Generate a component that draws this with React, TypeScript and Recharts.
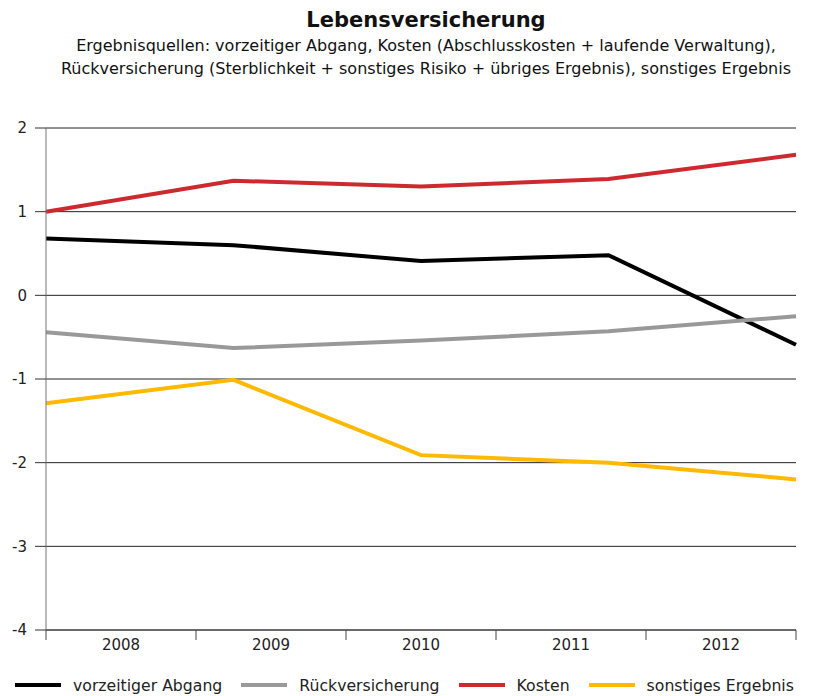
import { LineChart, Line, XAxis, YAxis, CartesianGrid, Legend } from "recharts";

const years = ["2008", "2009", "2010", "2011", "2012"];
const vorzeitigerAbgang = [0.68, 0.6, 0.41, 0.48, -0.59];
const rueckversicherung = [-0.44, -0.63, -0.54, -0.43, -0.25];
const kosten = [1.0, 1.37, 1.3, 1.39, 1.68];
const sonstigesErgebnis = [-1.29, -1.01, -1.91, -2.0, -2.2];
const yTicks = [-4, -3, -2, -1, 0, 1, 2];

const series = [
  { key: "abgang", name: "vorzeitiger Abgang", color: "#000000" },
  { key: "rueck", name: "Rückversicherung", color: "#999999" },
  { key: "kosten", name: "Kosten", color: "#cc2a2e" },
  { key: "sonst", name: "sonstiges Ergebnis", color: "#ffb900" },
];

const data = years.map((y, i) => ({
  x: i,
  year: y,
  abgang: vorzeitigerAbgang[i],
  rueck: rueckversicherung[i],
  kosten: kosten[i],
  sonst: sonstigesErgebnis[i],
}));

const FONT = "Verdana, 'DejaVu Sans', sans-serif";
const BAND_PX = 150;

function YearTick(props: any) {
  const { x, y, index } = props;
  if (index >= years.length) return null;
  return (
    <text x={x + BAND_PX / 2} y={y} dy={10} textAnchor="middle" fontSize={15} fill="#222" fontFamily={FONT}>
      {years[index]}
    </text>
  );
}

function LegendRow() {
  return (
    <div style={{ display: "flex", alignItems: "center", fontFamily: FONT, fontSize: 15.7, color: "#222", whiteSpace: "nowrap", height: 20 }}>
      {series.map((s) => (
        <div key={s.key} style={{ display: "flex", alignItems: "center", marginRight: 19, flexShrink: 0 }}>
          <span style={{ display: "inline-block", width: 46, height: 4, background: s.color, marginRight: 12 }} />
          <span>{s.name}</span>
        </div>
      ))}
    </div>
  );
}

export default function App() {
  return (
    <div style={{ position: "absolute", left: 0, top: 0, width: 816, height: 696, background: "#fff", fontFamily: FONT }}>
      <div style={{ position: "absolute", left: 36, top: 6, width: 780, textAlign: "center", color: "#111" }}>
        <div style={{ fontSize: 21, fontWeight: "bold", lineHeight: "28px" }}>Lebensversicherung</div>
        <div style={{ fontSize: 16, lineHeight: "23px" }}>
          Ergebnisquellen: vorzeitiger Abgang, Kosten (Abschlusskosten + laufende Verwaltung),
        </div>
        <div style={{ fontSize: 16, lineHeight: "23px" }}>
          Rückversicherung (Sterblichkeit + sonstiges Risiko + übriges Ergebnis), sonstiges Ergebnis
        </div>
      </div>
      <LineChart width={816} height={696} data={data} margin={{ top: 128, right: 20, bottom: 16, left: 0 }}>
        <CartesianGrid horizontal vertical={false} stroke="#222" strokeWidth={1} xAxisId="pt" />
        <XAxis xAxisId="pt" dataKey="x" type="number" domain={[0, 4]} hide />
        <XAxis
          xAxisId="cat"
          dataKey="x"
          type="number"
          domain={[0, 5]}
          ticks={[0, 1, 2, 3, 4, 5]}
          allowDataOverflow
          height={30}
          stroke="#444"
          tickSize={10}
          tickMargin={0}
          tick={<YearTick />}
        />
        <YAxis
          type="number"
          domain={[-4, 2]}
          ticks={yTicks}
          width={46}
          tickSize={11}
          tickMargin={8}
          axisLine={{ stroke: "#777" }}
          tickLine={{ stroke: "#333" }}
          tick={{ fontSize: 15, fill: "#222", fontFamily: FONT }}
        />
        {series.map((s) => (
          <Line
            key={s.key}
            xAxisId="pt"
            type="linear"
            dataKey={s.key}
            name={s.name}
            stroke={s.color}
            strokeWidth={4}
            dot={false}
            isAnimationActive={false}
          />
        ))}
        <Legend content={<LegendRow />} wrapperStyle={{ left: 15, top: 675, width: 801, height: 20 }} />
      </LineChart>
    </div>
  );
}
